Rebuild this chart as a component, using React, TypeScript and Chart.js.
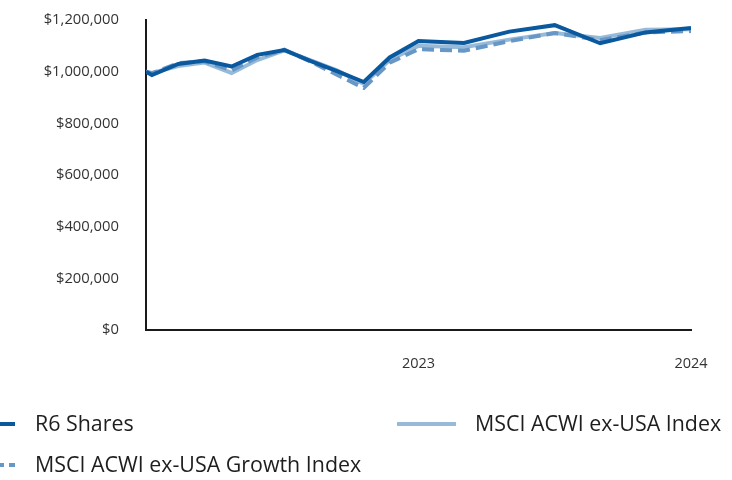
import React, { useEffect, useRef } from "react";
import { Chart, registerables } from "chart.js";

Chart.register(...registerables);

// Months elapsed since the start of 2022 (x positions of the observations)
const months = [0, 0.26, 1.42, 2.58, 3.77, 4.9, 6.09, 7.23, 8.41, 9.59, 10.73, 12, 14, 16, 18, 20, 22, 24];

const r6Shares = [1000000, 987000, 1030000, 1043000, 1020000, 1065000, 1084000, 1042000, 1002000, 960000, 1055000, 1119000, 1111000, 1155000, 1180000, 1110000, 1152000, 1169000];
const acwiExUsa = [1000000, 995000, 1022000, 1035000, 995000, 1045000, 1082000, 1045000, 1005000, 953000, 1045000, 1100000, 1095000, 1124000, 1150000, 1130000, 1162000, 1164000];
const acwiExUsaGrowth = [1000000, 993000, 1033000, 1040000, 1005000, 1055000, 1085000, 1040000, 988000, 937000, 1035000, 1087000, 1081000, 1118000, 1150000, 1122000, 1152000, 1157000];

const yearTicks = [12, 24];
const yearLabels = ["2023", "2024"];

const seriesNames = ["R6 Shares", "MSCI ACWI ex-USA Index", "MSCI ACWI ex-USA Growth Index"];

const FONT = '"Open Sans", "Noto Sans", sans-serif';
const DARK = "#0a589e";
const LIGHT = "#97bad9";
const MID = "#6797c6";

const toPoints = (vals: number[]) => vals.map((v, i) => ({ x: months[i], y: v }));

const legendPlugin = {
  id: "customLegend",
  afterDraw(chart: any) {
    const ctx = chart.ctx;
    ctx.save();
    ctx.font = `21.4px ${FONT}`;
    ctx.fillStyle = "#1e1e1e";
    ctx.textBaseline = "middle";
    ctx.textAlign = "left";
    const items = [
      { x0: -24, x1: 15, y: 424, ty: 425, tx: 35, color: DARK, dash: [] as number[], name: seriesNames[0] },
      { x0: 397, x1: 456, y: 424, ty: 425, tx: 475, color: LIGHT, dash: [] as number[], name: seriesNames[1] },
      { x0: -24, x1: 15, y: 465, ty: 466, tx: 35, color: MID, dash: [6, 5], name: seriesNames[2] },
    ];
    for (const it of items) {
      ctx.beginPath();
      ctx.setLineDash(it.dash);
      ctx.lineWidth = 4;
      ctx.strokeStyle = it.color;
      ctx.moveTo(it.x0, it.y);
      ctx.lineTo(it.x1, it.y);
      ctx.stroke();
      ctx.setLineDash([]);
      ctx.fillText(it.name, it.tx, it.ty);
    }
    ctx.restore();
  },
};

export default function App() {
  const ref = useRef<HTMLCanvasElement | null>(null);

  useEffect(() => {
    let chart: Chart | null = null;
    let cancelled = false;
    const build = () => {
      if (cancelled || !ref.current) return;
      chart = new Chart(ref.current, {
        type: "line",
        data: {
          datasets: [
            {
              label: seriesNames[1],
              data: toPoints(acwiExUsa),
              borderColor: LIGHT,
              borderWidth: 4,
              pointRadius: 0,
              tension: 0,
              order: 3,
            },
            {
              label: seriesNames[2],
              data: toPoints(acwiExUsaGrowth),
              borderColor: MID,
              borderWidth: 4,
              borderDash: [12, 6],
              pointRadius: 0,
              tension: 0,
              order: 2,
            },
            {
              label: seriesNames[0],
              data: toPoints(r6Shares),
              borderColor: DARK,
              borderWidth: 4,
              pointRadius: 0,
              tension: 0,
              order: 1,
            },
          ],
        },
        options: {
          animation: false,
          responsive: false,
          maintainAspectRatio: false,
          layout: { padding: { left: 0, right: 41, top: 20, bottom: 0 } },
          plugins: { legend: { display: false }, tooltip: { enabled: false } },
          scales: {
            x: {
              type: "linear",
              min: 0,
              max: 24,
              grid: { display: false, drawTicks: false },
              border: { display: true, color: "#1a1a1a", width: 2 },
              afterFit: (s: any) => {
                s.height = 150;
                s.paddingLeft = 0;
                s.paddingRight = 0;
              },
              afterBuildTicks: (s: any) => {
                s.ticks = yearTicks.map((v) => ({ value: v }));
              },
              ticks: {
                padding: 25,
                color: "#333",
                font: { family: FONT, size: 14.5 },
                maxRotation: 0,
                autoSkip: false,
                callback: (v: any) => {
                  const i = yearTicks.indexOf(Number(v));
                  return i >= 0 ? yearLabels[i] : "";
                },
              },
            },
            y: {
              min: 0,
              max: 1200000,
              grid: { display: false, drawTicks: false },
              border: { display: true, color: "#1a1a1a", width: 2 },
              afterFit: (s: any) => {
                s.width = 146;
                s.paddingTop = 0;
                s.paddingBottom = 0;
              },
              ticks: {
                stepSize: 200000,
                padding: 27,
                color: "#333",
                font: { family: FONT, size: 14.8 },
                callback: (v: any) => "$" + Number(v).toLocaleString("en-US"),
              },
            },
          },
        },
        plugins: [legendPlugin],
      });
    };
    if ((document as any).fonts && (document as any).fonts.load) {
      Promise.all([
        (document as any).fonts.load(`14px "Open Sans"`),
        (document as any).fonts.load(`20px "Open Sans"`),
      ])
        .catch(() => {})
        .then(build);
    } else {
      build();
    }
    return () => {
      cancelled = true;
      if (chart) chart.destroy();
    };
  }, []);

  return (
    <div style={{ position: "fixed", left: 0, top: 0, width: 732, height: 480, background: "#fff" }}>
      <canvas ref={ref} width={732} height={480} style={{ display: "block", width: 732, height: 480 }} />
    </div>
  );
}
